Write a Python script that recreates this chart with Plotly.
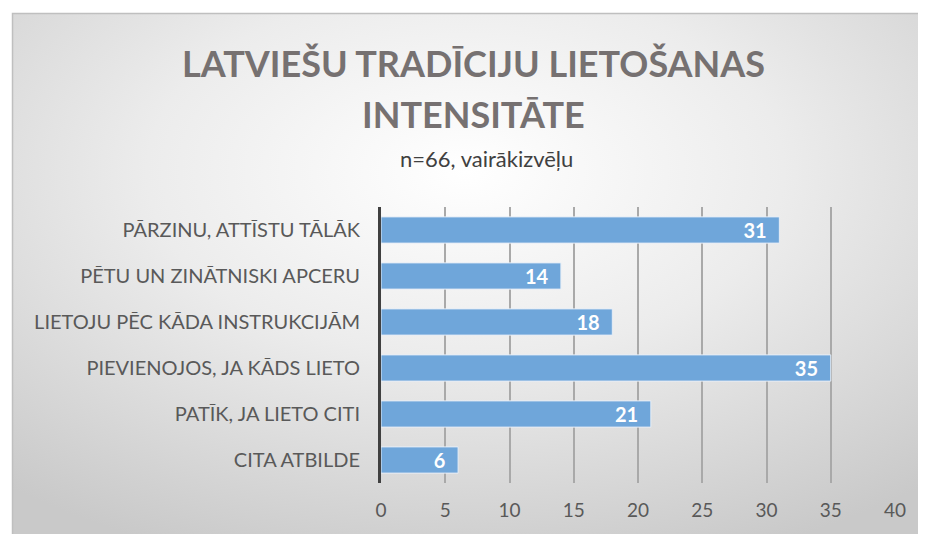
import base64
import plotly.graph_objects as go

categories = [
    "PĀRZINU, ATTĪSTU TĀLĀK",
    "PĒTU UN ZINĀTNISKI APCERU",
    "LIETOJU PĒC KĀDA INSTRUKCIJĀM",
    "PIEVIENOJOS, JA KĀDS LIETO",
    "PATĪK, JA LIETO CITI",
    "CITA ATBILDE",
]
values = [31, 14, 18, 35, 21, 6]
x_ticks = [0, 5, 10, 15, 20, 25, 30, 35, 40]

# page body has an 8px margin, so the figure sits at (8, 8) on screen
OFF = 8
W, H = 910, 526
# plot area in screen pixels
PL, PR, PT, PB = 381, 902, 207, 483
ML, MR, MT, MB = PL - OFF, W - (PR - OFF), PT - OFF, H - (PB - OFF)
FONT = "Lato"

pw, ph = W - ML - MR, H - MT - MB


def px_x(p):
    # screen pixel -> paper x
    return (p - OFF - ML) / pw


def px_y(p):
    # screen pixel -> paper y
    return (H - MB - (p - OFF)) / ph


svg = (
    '<svg xmlns="http://www.w3.org/2000/svg" width="400" height="300" '
    'preserveAspectRatio="none" viewBox="0 0 400 300">'
    '<defs><radialGradient id="g" cx="0.5" cy="0.3" r="0.78">'
    '<stop offset="0" stop-color="#ffffff"/>'
    '<stop offset="0.45" stop-color="#ececec"/>'
    '<stop offset="1" stop-color="#c9c9c9"/>'
    '</radialGradient></defs>'
    '<rect width="400" height="300" fill="url(#g)"/></svg>'
)
bg_src = "data:image/svg+xml;base64," + base64.b64encode(svg.encode()).decode()

fig = go.Figure()
fig.add_trace(go.Bar(
    x=values, y=categories, orientation="h",
    marker=dict(color="#6fa6da", line=dict(color="#e6eef7", width=1)),
    width=0.57,
    text=values, texttemplate="%{x}\u00a0\u00a0", textposition="inside",
    insidetextanchor="end", textangle=0, constraintext="none",
    textfont=dict(family=FONT, size=20, color="white", weight="bold"),
    cliponaxis=False,
))

fig.update_layout(
    width=W, height=H,
    margin=dict(l=ML, r=MR, t=MT, b=MB),
    paper_bgcolor="white",
    plot_bgcolor="rgba(0,0,0,0)",
    showlegend=False,
    font=dict(family=FONT, color="#595959"),
    images=[dict(
        source=bg_src, xref="paper", yref="paper",
        x=px_x(7), y=px_y(13), sizex=px_x(926) - px_x(7), sizey=px_y(13) - px_y(542),
        xanchor="left", yanchor="top", sizing="stretch", layer="below",
    )],
    shapes=[dict(
        type="rect", xref="paper", yref="paper",
        x0=px_x(7.5), x1=px_x(940), y0=px_y(560), y1=px_y(13.5),
        line=dict(color="#bfbfbf", width=1.5), layer="below",
    )],
    annotations=[
        dict(text="<b>LATVIEŠU TRADĪCIJU LIETOŠANAS</b>", xref="paper", yref="paper",
             x=px_x(475), y=px_y(63), xanchor="center", yanchor="middle", showarrow=False,
             font=dict(family=FONT, size=36, color="#767171")),
        dict(text="<b>INTENSITĀTE</b>", xref="paper", yref="paper",
             x=px_x(475), y=px_y(114), xanchor="center", yanchor="middle", showarrow=False,
             font=dict(family=FONT, size=36, color="#767171")),
        dict(text="n=66, vairākizvēļu", xref="paper", yref="paper",
             x=px_x(488), y=px_y(158), xanchor="center", yanchor="middle", showarrow=False,
             font=dict(family=FONT, size=22, color="#404040")),
    ],
)

fig.update_xaxes(
    range=[0, 40], tickvals=x_ticks, showgrid=True, gridcolor="#a9a9a9", gridwidth=1.5,
    zeroline=False, showline=False, ticks="", tickfont=dict(size=19, color="#595959"),
    ticklabelstandoff=14,
)
fig.update_yaxes(
    autorange="reversed", showline=True, linecolor="#404040", linewidth=3,
    ticks="", ticklabelstandoff=14, tickfont=dict(size=20, color="#595959"),
)

fig.write_html("out.html")
